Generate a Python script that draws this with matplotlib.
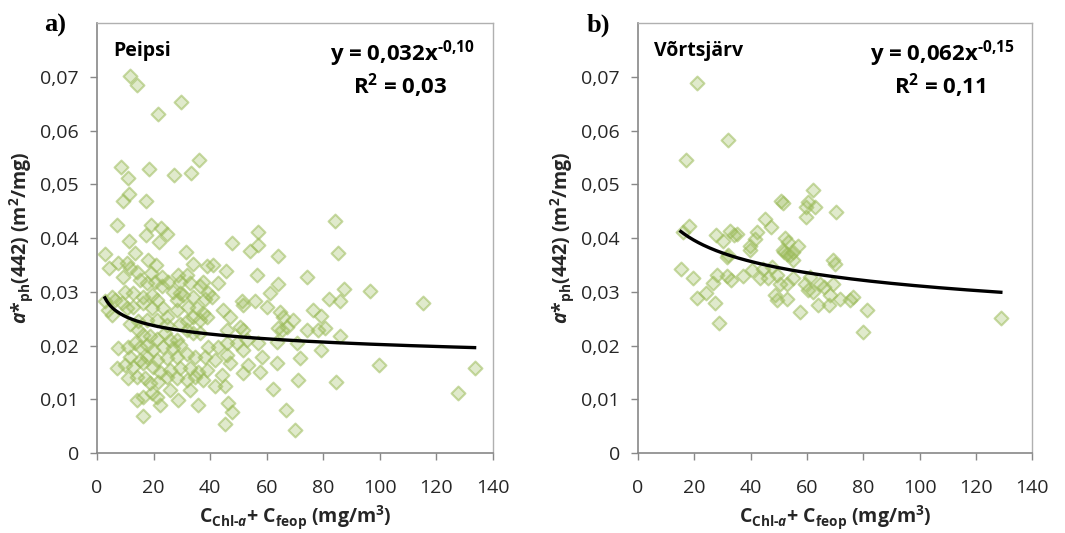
import numpy as np
import matplotlib
matplotlib.use("Agg")
import matplotlib.pyplot as plt
from matplotlib.ticker import FixedLocator, FixedFormatter

plt.rcParams['font.family'] = ['Open Sans', 'DejaVu Sans']
plt.rcParams['mathtext.fontset'] = 'custom'
plt.rcParams['mathtext.rm'] = 'Open Sans:bold'
plt.rcParams['mathtext.it'] = 'Open Sans:italic:bold'
plt.rcParams['mathtext.bf'] = 'Open Sans:bold'

# ---------------- data ----------------
peipsi_x = [11.7, 14.2, 29.6, 21.6, 36.2, 8.4, 18.3, 27.3, 33.3, 11.0, 11.4, 9.3, 17.2, 7.0, 19.0,
            22.5, 24.9, 17.3, 11.4, 21.8, 47.6, 57.0, 57.0, 31.5,
            84.2, 85.2, 87.4, 82.1, 85.9, 96.5, 115.4, 79.3, 80.7, 85.9, 79.1, 99.6, 84.5, 133.5, 127.6,
            2.95, 13.4, 18.1, 20.9, 4.4, 7.5, 10.5, 11.7, 9.1, 14.3, 19.1, 22.9, 25.2, 28.8, 31.9, 34.1,
            38.8, 41.1, 45.5, 54.1, 64.1, 56.4, 64.1, 74.3,
            15.2, 17.6, 20.5, 22.9, 29.3, 32.9, 36.4, 37.6, 42.9, 39.4, 29.3, 27.0, 12.8, 9.9, 5.2, 2.8,
            6.4, 8.7, 16.4, 19.3, 21.1, 28.2, 30.5, 34.1, 38.2, 40.5, 61.1,
            4.0, 5.2, 10.5, 12.8, 16.4, 19.3, 23.5, 24.6, 28.2, 32.3, 35.2, 37.6, 34.1, 36.4, 38.8, 44.7,
            47.0, 51.1, 51.7, 55.8, 60.0, 64.7, 65.9, 69.4, 76.5, 67.0, 64.1, 65.3, 74.1, 78.2, 51.7,
            50.5, 45.8, 11.7, 14.6, 17.6, 21.1, 24.6, 29.3, 31.7,
            14.6, 16.4, 18.7, 21.1, 24.0, 25.8, 28.2, 31.7, 34.1, 36.4, 39.4, 42.9, 45.8, 49.4, 52.9,
            57.0, 63.5, 70.6, 7.5, 11.1, 13.4, 15.2, 17.6, 19.9, 23.5, 27.0, 29.3,
            11.7, 15.2, 17.6, 21.1, 24.6, 28.2, 31.7, 34.6, 38.2, 41.7, 45.8, 47.0, 51.7, 53.5, 58.2,
            63.5, 71.7, 7.0, 9.9, 12.8, 16.4, 19.9, 22.3, 25.8, 29.3, 32.9, 35.8, 38.8, 44.1, 51.7,
            57.6, 11.1, 14.0, 17.0, 18.7, 21.7, 24.6, 28.2, 31.7, 34.6, 37.6, 41.7, 45.2, 62.3, 71.2,
            14.0, 16.4, 19.3, 21.1, 22.3, 25.8, 28.8, 32.9, 35.8, 46.4, 47.6, 45.2, 16.4, 66.8, 70.0]
peipsi_y = [0.0702, 0.0684, 0.0654, 0.0631, 0.0546, 0.0532, 0.0529, 0.0518, 0.0521, 0.0512, 0.0481,
            0.0468, 0.0468, 0.0425, 0.0424, 0.0418, 0.0408, 0.0405, 0.0395, 0.0392, 0.0390, 0.0411,
            0.0387, 0.0374,
            0.0432, 0.0372, 0.0306, 0.0287, 0.0282, 0.0301, 0.0279, 0.0255, 0.0233, 0.0218, 0.0192,
            0.0163, 0.0133, 0.0158, 0.0112,
            0.0371, 0.0373, 0.0359, 0.0350, 0.0344, 0.0353, 0.0353, 0.0344, 0.0328, 0.0336, 0.0335,
            0.0328, 0.0319, 0.0331, 0.0331, 0.0352, 0.0348, 0.0350, 0.0338, 0.0375, 0.0367, 0.0331,
            0.0314, 0.0328,
            0.0322, 0.0316, 0.0319, 0.0310, 0.0319, 0.0316, 0.0310, 0.0319, 0.0317, 0.0297, 0.0297,
            0.0300, 0.0297, 0.0300, 0.0291, 0.0282, 0.0285, 0.0279, 0.0291, 0.0294, 0.0285, 0.0285,
            0.0294, 0.0291, 0.0286, 0.0291, 0.0297,
            0.0266, 0.0257, 0.0269, 0.0272, 0.0279, 0.0269, 0.0269, 0.0254, 0.0266, 0.0272, 0.0269,
            0.0260, 0.0254, 0.0248, 0.0254, 0.0267, 0.0254, 0.0282, 0.0276, 0.0282, 0.0272, 0.0263,
            0.0254, 0.0248, 0.0266, 0.0235, 0.0232, 0.0229, 0.0229, 0.0229, 0.0229, 0.0235, 0.0229,
            0.0241, 0.0245, 0.0248, 0.0248, 0.0238, 0.0241, 0.0245,
            0.0229, 0.0220, 0.0217, 0.0213, 0.0223, 0.0210, 0.0210, 0.0229, 0.0223, 0.0223, 0.0198,
            0.0198, 0.0204, 0.0204, 0.0210, 0.0204, 0.0207, 0.0204, 0.0195, 0.0198, 0.0204, 0.0198,
            0.0201, 0.0192, 0.0198, 0.0195, 0.0201,
            0.0179, 0.0173, 0.0179, 0.0173, 0.0176, 0.0179, 0.0185, 0.0179, 0.0179, 0.0173, 0.0182,
            0.0167, 0.0192, 0.0164, 0.0179, 0.0167, 0.0176, 0.0158, 0.0164, 0.0161, 0.0167, 0.0161,
            0.0151, 0.0154, 0.0158, 0.0158, 0.0151, 0.0154, 0.0145, 0.0148, 0.0151, 0.0139, 0.0142,
            0.0139, 0.0130, 0.0133, 0.0142, 0.0139, 0.0136, 0.0142, 0.0136, 0.0124, 0.0124, 0.0120,
            0.0136,
            0.0099, 0.0105, 0.0111, 0.0105, 0.0089, 0.0117, 0.0099, 0.0117, 0.0089, 0.0093, 0.0077,
            0.0054, 0.0068, 0.0080, 0.0043]

vorts_x = [21.0, 31.9, 17.1, 62.1, 50.8, 51.6, 60.3, 59.7, 62.9, 70.4, 59.5, 45.1, 47.3, 18.2, 15.9,
           27.7, 30.3, 32.7, 35.1, 34.2, 42.2, 41.6, 39.8, 52.2, 53.4, 56.7, 51.6, 52.8, 55.2, 31.9,
           69.4, 31.7, 39.8, 51.7, 54.0, 55.2, 70.0, 15.2, 19.4, 26.8, 28.2, 31.5, 32.9, 37.4, 40.4,
           43.4, 44.5, 46.3, 47.5, 49.3, 50.5, 52.8, 55.2, 59.3, 61.1, 64.7, 65.9, 69.4, 48.7, 49.3,
           52.8, 60.5, 62.3, 68.2, 71.8, 75.3, 76.5, 64.1, 68.0, 57.6, 20.8, 24.2, 27.5, 28.9,
           81.3, 79.8, 128.9]
vorts_y = [0.0688, 0.0582, 0.0545, 0.0490, 0.0469, 0.0466, 0.0467, 0.0458, 0.0458, 0.0449, 0.0439,
           0.0436, 0.0421, 0.0423, 0.0412, 0.0405, 0.0395, 0.0413, 0.0408, 0.0405, 0.0411, 0.0399,
           0.0385, 0.0400, 0.0393, 0.0385, 0.0377, 0.0371, 0.0374, 0.0368, 0.0359, 0.0365, 0.0377,
           0.0374, 0.0368, 0.0359, 0.0351, 0.0343, 0.0325, 0.0317, 0.0331, 0.0329, 0.0322, 0.0329,
           0.0340, 0.0326, 0.0343, 0.0326, 0.0346, 0.0331, 0.0315, 0.0315, 0.0325, 0.0315, 0.0328,
           0.0315, 0.0309, 0.0315, 0.0294, 0.0284, 0.0287, 0.0303, 0.0300, 0.0294, 0.0287, 0.0284,
           0.0290, 0.0275, 0.0275, 0.0263, 0.0288, 0.0297, 0.0280, 0.0242, 0.0266, 0.0226, 0.0251]

# power-law fit coefficients shown on chart: y = a * x^b
fit_a = [0.032, 0.062]
fit_b = [-0.10, -0.15]
eq_texts = [r"y = 0,032x$^{\text{-}0{,}10}$", r"y = 0,062x$^{\text{-}0{,}15}$"]
r2_texts = [r"R$^{2}$ = 0,03", r"R$^{2}$ = 0,11"]
lake_names = ["Peipsi", "Võrtsjärv"]
panel_labels = ["a)", "b)"]

x_ticks = [0, 20, 40, 60, 80, 100, 120, 140]
x_ticklabels = ["0", "20", "40", "60", "80", "100", "120", "140"]
y_ticks = [0, 0.01, 0.02, 0.03, 0.04, 0.05, 0.06, 0.07]
y_ticklabels = ["0", "0,01", "0,02", "0,03", "0,04", "0,05", "0,06", "0,07"]

# ---------------- figure ----------------
fig = plt.figure(figsize=(10.65, 5.33), dpi=100)
ax_pos = [[0.0911, 0.150, 0.3718, 0.8068], [0.5991, 0.150, 0.3700, 0.8068]]
xs_all = [peipsi_x, vorts_x]
ys_all = [peipsi_y, vorts_y]

face = (0.608, 0.733, 0.349, 0.30)
edge = (0.608, 0.733, 0.349, 0.55)
axis_col = '#888888'
text_col = '#262626'

for i in range(2):
    ax = fig.add_axes(ax_pos[i])
    xs = np.array(xs_all[i]); ys = np.array(ys_all[i])
    ax.scatter(xs, ys, marker='D', s=50, facecolor=face, edgecolor=edge, linewidths=1.5, zorder=2)
    xf = np.linspace(xs.min(), xs.max(), 200)
    ax.plot(xf, fit_a[i] * xf ** fit_b[i], color='black', lw=2.4, zorder=3)

    ax.set_xlim(0, 140)
    ax.set_ylim(0, 0.08)
    ax.xaxis.set_major_locator(FixedLocator(x_ticks))
    ax.xaxis.set_major_formatter(FixedFormatter(x_ticklabels))
    ax.yaxis.set_major_locator(FixedLocator(y_ticks))
    ax.yaxis.set_major_formatter(FixedFormatter(y_ticklabels))
    ax.tick_params(direction='out', length=5, width=1, color=axis_col, labelsize=14,
                   labelcolor=text_col)
    ax.tick_params(axis='x', pad=14)
    ax.tick_params(axis='y', pad=8)
    for s in ['left', 'bottom']:
        ax.spines[s].set_color(axis_col); ax.spines[s].set_linewidth(1.2)
    for s in ['top', 'right']:
        ax.spines[s].set_color('#b0b0b0'); ax.spines[s].set_linewidth(1.0)

    ax.set_xlabel(r"C$_{\mathrm{Chl}\text{-}\mathit{a}}$+ C$_{\mathrm{feop}}$ (mg/m$^{\mathrm{3}}$)",
                  fontsize=14, fontweight='bold', color=text_col, labelpad=4)
    ax.set_ylabel(r"$\mathit{a}$*$_{\mathrm{ph}}$(442) (m$^{\mathrm{2}}$/mg)",
                  fontsize=14, fontweight='bold', color=text_col, labelpad=4)

    ax.text(0.04, 0.935, lake_names[i], transform=ax.transAxes, fontsize=14,
            fontweight='bold', color='black', ha='left', va='center')
    ax.text(0.955, 0.93, eq_texts[i], transform=ax.transAxes, fontsize=16,
            fontweight='bold', color='black', ha='right', va='center')
    ax.text(0.765, 0.855, r2_texts[i], transform=ax.transAxes, fontsize=16,
            fontweight='bold', color='black', ha='center', va='center')

fig.text(0.052, 0.952, panel_labels[0], fontsize=19, fontweight='bold',
         family='Liberation Serif', ha='center', va='center')
fig.text(0.562, 0.952, panel_labels[1], fontsize=19, fontweight='bold',
         family='Liberation Serif', ha='center', va='center')

fig.savefig("out.png", dpi=100)
